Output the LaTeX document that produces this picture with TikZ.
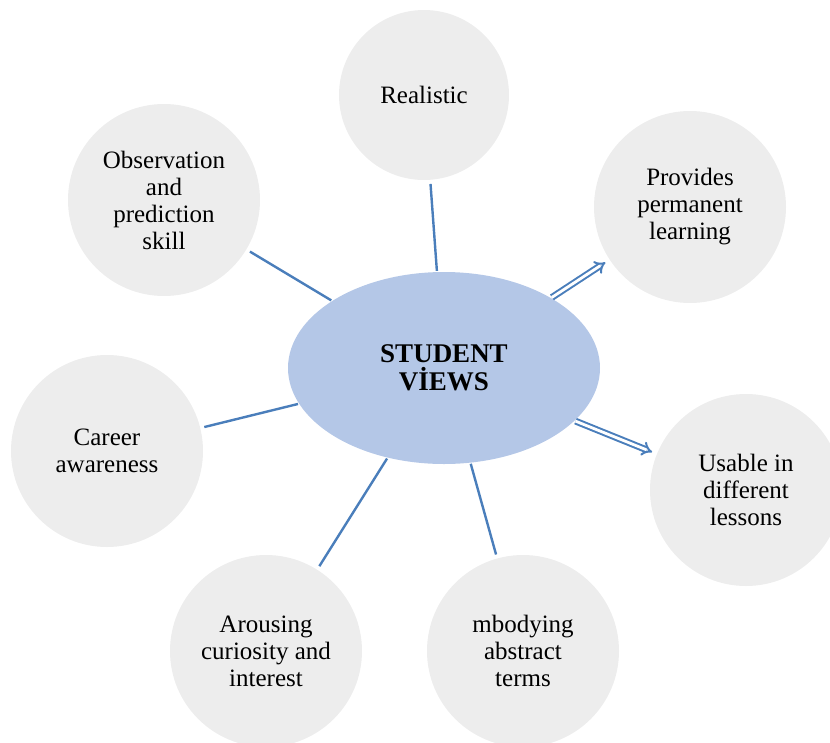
\documentclass[tikz,border=0pt]{standalone}
\usepackage{fontspec}
\setmainfont{Liberation Serif}
\usetikzlibrary{shapes.geometric,arrows.meta}
\definecolor{bubblegray}{HTML}{EDEDED}
\definecolor{centreblue}{HTML}{B4C7E7}
\definecolor{lineblue}{HTML}{4A7EBB}

\begin{document}
\begin{tikzpicture}[x=1pt,y=-1pt,
    bubble/.style={circle,fill=bubblegray,minimum size=192pt,inner sep=0pt,align=center,
      font=\fontsize{25}{27}\selectfont},
    centre/.style={ellipse,fill=centreblue,minimum width=312pt,minimum height=192pt,align=center,
      font=\fontsize{27}{28}\selectfont\bfseries},
    link/.style={draw=lineblue,line width=2.4pt,shorten <=1pt,shorten >=4pt},
    dbl/.style={draw=lineblue,double,double distance=2.8pt,line width=2pt,-{Implies},
      shorten <=1pt,shorten >=5pt}]
  \path[use as bounding box] (0,0) rectangle (830,742);
  \node[centre] (sv) at (444,368) {STUDENT\\VİEWS};
  \node[bubble,minimum size=170pt] (re) at (424,95) {Realistic};
  \node[bubble] (pl) at (690,207) {Provides\\permanent\\learning};
  \node[bubble] (op) at (164,200) {Observation\\and\\prediction\\skill};
  \node[bubble] (ca) at (107,451) {Career\\awareness};
  \node[bubble] (ud) at (746,490) {Usable in\\different\\lessons};
  \node[bubble] (ac) at (266,651) {Arousing\\curiosity and\\interest};
  \node[bubble] (ab) at (523,651) {mbodying\\abstract\\terms};
  \draw[link] (sv) -- (re);
  \draw[link] (sv) -- (op);
  \draw[link] (sv) -- (ca);
  \draw[link] (sv) -- (ac);
  \draw[link] (sv) -- (ab);
  \draw[dbl] (sv) -- (pl);
  \draw[dbl] (sv) -- (ud);
\end{tikzpicture}
\end{document}
